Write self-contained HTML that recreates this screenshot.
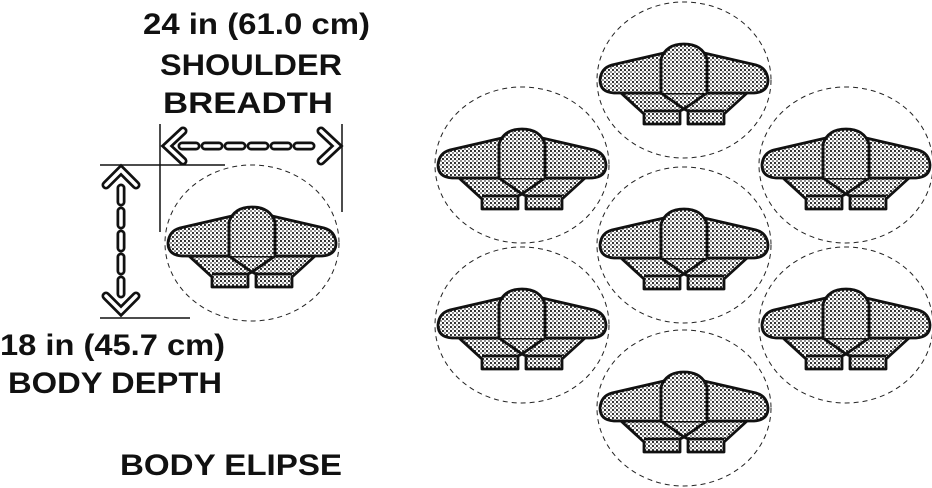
<!DOCTYPE html>
<html><head><meta charset="utf-8"><style>
html,body{margin:0;padding:0;background:#fff;}
svg{display:block}
text{font-family:"Liberation Sans",sans-serif;font-weight:bold;fill:#111;font-size:30px}
</style></head><body>
<svg width="932" height="488" viewBox="0 0 932 488">
<defs>
<pattern id="dots" width="4" height="4" patternUnits="userSpaceOnUse">
<rect width="4" height="4" fill="#fff"/><circle cx="1" cy="1" r="1.1" fill="#222"/><circle cx="3" cy="3" r="0.9" fill="#444"/>
</pattern>
<g id="person">
<g fill="url(#dots)" stroke="#111" stroke-width="2.8" stroke-linejoin="round">
<path d="M-63,12 L-40,33 L-40,43 L-4,43 L-4,30 L0,28 L4,30 L4,43 L40,43 L40,33 L63,12 Z"/>
<path d="M-40,30 L-4,30 M40,30 L4,30 M-23,12 L0,28 L23,12" fill="none"/>
<path d="M-70,12 L70,12 Q84,11 84,-1 Q83,-13 72,-16 L20,-28 L-20,-28 L-72,-16 Q-83,-13 -84,-1 Q-84,11 -70,12 Z"/>
<path d="M-23,12 L-23,-22 Q-18,-37 0,-37 Q18,-37 23,-22 L23,12"/>
</g>
</g>
</defs>
<g>
<text x="143" y="34" textLength="227" lengthAdjust="spacingAndGlyphs">24 in (61.0 cm)</text>
<text x="160" y="75" textLength="182" lengthAdjust="spacingAndGlyphs">SHOULDER</text>
<text x="163" y="113" textLength="170" lengthAdjust="spacingAndGlyphs">BREADTH</text>
<text x="0" y="355" textLength="225" lengthAdjust="spacingAndGlyphs">18 in (45.7 cm)</text>
<text x="8" y="393" textLength="214" lengthAdjust="spacingAndGlyphs">BODY DEPTH</text>
<text x="120" y="475" textLength="222" lengthAdjust="spacingAndGlyphs">BODY ELIPSE</text>
</g>
<g stroke="#111" stroke-width="1.5" fill="none">
<line x1="160" y1="124" x2="160" y2="232"/>
<line x1="342" y1="124" x2="342" y2="212"/>
<line x1="100" y1="165" x2="225" y2="165"/>
<line x1="100" y1="318" x2="190" y2="318"/>
</g>
<g fill="none" stroke-linecap="round">
<g stroke="#111" stroke-width="9">
<path d="M183,131 L167,146 L183,161 M321,131 L337,146 L321,161"/>
<path d="M182,146 L320,146" stroke-dasharray="14 9"/>
</g>
<g stroke="#fff" stroke-width="3.5">
<path d="M183,131 L167,146 L183,161 M321,131 L337,146 L321,161"/>
<path d="M182,146 L320,146" stroke-dasharray="14 9"/>
</g>
</g>
<g fill="none" stroke-linecap="round">
<g stroke="#111" stroke-width="9">
<path d="M106,185 L121,170 L136,185 M106,296 L121,311 L136,296"/>
<path d="M121,188 L121,294" stroke-dasharray="14 9"/>
</g>
<g stroke="#fff" stroke-width="3.5">
<path d="M106,185 L121,170 L136,185 M106,296 L121,311 L136,296"/>
<path d="M121,188 L121,294" stroke-dasharray="14 9"/>
</g>
</g>
<g id="ellipses"></g>
</svg>
<script>
const ns="http://www.w3.org/2000/svg";
const g=document.getElementById('ellipses');
const centers=[[252,243],[684,80],[522,165],[846,165],[684,245],[522,325],[846,325],[684,408]];
centers.forEach(function(c,i){
  const e=document.createElementNS(ns,'ellipse');
  
  
  e.setAttribute('cx',c[0]);e.setAttribute('cy',c[1]);
  e.setAttribute('rx',87);e.setAttribute('ry',78);
  e.setAttribute('fill','none');e.setAttribute('stroke','#222');
  e.setAttribute('stroke-width','1');e.setAttribute('stroke-dasharray','5 4');
  g.appendChild(e);
  const u=document.createElementNS(ns,'use');
  
  
  u.setAttribute('href','#person');
  u.setAttribute('x',c[0]);u.setAttribute('y',c[1]+1);
  g.appendChild(u);
});
</script>
</body></html>
